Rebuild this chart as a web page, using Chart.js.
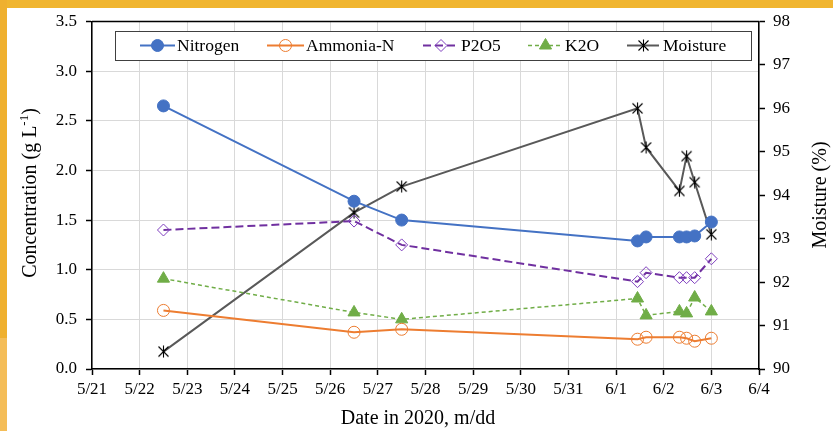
<!DOCTYPE html>
<html><head><meta charset="utf-8">
<script src="https://cdn.jsdelivr.net/npm/chart.js@4.4.1/dist/chart.umd.min.js"></script>
<style>html,body{margin:0;padding:0;background:#fff;overflow:hidden}#wrap{width:833px;height:431px;position:relative}</style>
</head><body><div id="wrap"><canvas id="c" width="833" height="431"></canvas></div>
<script>
// ---- data ----
const tickLabels = ['5/21','5/22','5/23','5/24','5/25','5/26','5/27','5/28','5/29','5/30','5/31','6/1','6/2','6/3','6/4'];
// sampling time, in days after 5/21 00:00
const sampleDays = [1.5, 5.5, 6.5, 11.45, 11.63, 12.33, 12.48, 12.65, 13.0];
const nitrogen  = [2.65, 1.69, 1.50, 1.29, 1.33, 1.33, 1.33, 1.34, 1.48];
const ammoniaN  = [0.59, 0.37, 0.40, 0.30, 0.32, 0.32, 0.31, 0.28, 0.31];
const p2o5      = [1.40, 1.49, 1.25, 0.88, 0.97, 0.92, 0.92, 0.92, 1.11];
const k2o       = [0.91, 0.57, 0.50, 0.71, 0.54, 0.58, 0.56, 0.72, 0.58];
const moisture  = [90.4, 93.6, 94.2, 96.0, 95.1, 94.1, 94.9, 94.3, 93.1];
const seriesNames = ['Nitrogen','Ammonia-N','P2O5','K2O','Moisture'];

const FONT = 'Liberation Serif, Times New Roman, serif';

function starMarker(){
  const c=document.createElement('canvas'); c.width=13; c.height=13;
  const g=c.getContext('2d'); g.strokeStyle='#000'; g.lineWidth=1.1;
  g.beginPath();
  g.moveTo(6.5,0.5); g.lineTo(6.5,12.5);
  g.moveTo(1.5,1.5); g.lineTo(11.5,11.5);
  g.moveTo(11.5,1.5); g.lineTo(1.5,11.5);
  g.stroke();
  return c;
}
const STAR = starMarker();
const pts = arr => sampleDays.map((d,i)=>({x:d, y:arr[i]}));

const datasets = [
  {label:seriesNames[0], data:pts(nitrogen), borderColor:'#4472C4', backgroundColor:'#4472C4', borderWidth:2,
   pointStyle:'circle', pointRadius:6, pointBorderWidth:1, pointBackgroundColor:'#4472C4', pointBorderColor:'#4472C4', yAxisID:'y'},
  {label:seriesNames[1], data:pts(ammoniaN), borderColor:'#ED7D31', backgroundColor:'rgba(0,0,0,0)', borderWidth:2,
   pointStyle:'circle', pointRadius:6, pointBorderWidth:1, pointBackgroundColor:'rgba(0,0,0,0)', pointBorderColor:'#ED7D31', yAxisID:'y'},
  {label:seriesNames[2], data:pts(p2o5), borderColor:'#7030A0', backgroundColor:'rgba(0,0,0,0)', borderWidth:2, borderDash:[8,4],
   pointStyle:'rectRot', pointRadius:6, pointBorderWidth:1, pointBackgroundColor:'rgba(0,0,0,0)', pointBorderColor:'#7F3FBF', yAxisID:'y'},
  {label:seriesNames[3], data:pts(k2o), borderColor:'#70AD47', backgroundColor:'#70AD47', borderWidth:1.5, borderDash:[4,3],
   pointStyle:'triangle', pointRadius:7, pointBorderWidth:1, pointBackgroundColor:'#70AD47', pointBorderColor:'#70AD47', yAxisID:'y'},
  {label:seriesNames[4], data:pts(moisture), borderColor:'#595959', backgroundColor:'rgba(0,0,0,0)', borderWidth:2,
   pointStyle:STAR, pointRadius:6, yAxisID:'y1'}
];

function drawMarker(ctx, ds, x, y){
  const r = ds.pointRadius;
  ctx.save();
  ctx.lineWidth = ds.pointBorderWidth || 1;
  ctx.strokeStyle = ds.pointBorderColor; ctx.fillStyle = ds.pointBackgroundColor;
  ctx.setLineDash([]);
  ctx.beginPath();
  if (ds.pointStyle === 'circle') { ctx.arc(x,y,r,0,Math.PI*2); }
  else if (ds.pointStyle === 'rectRot') { ctx.moveTo(x-r,y); ctx.lineTo(x,y-r); ctx.lineTo(x+r,y); ctx.lineTo(x,y+r); ctx.closePath(); }
  else if (ds.pointStyle === 'triangle') {
    for (let k=0;k<3;k++){ const a=-Math.PI/2+k*2*Math.PI/3; const px=x+r*Math.cos(a), py=y+r*Math.sin(a); k?ctx.lineTo(px,py):ctx.moveTo(px,py);} ctx.closePath(); }
  else { ctx.drawImage(ds.pointStyle, Math.round(x-6.5), Math.round(y-6.5)); ctx.restore(); return; }
  ctx.fill(); ctx.stroke();
  ctx.restore();
}

const framePlugin = {
  id:'frame',
  beforeDraw(chart){
    const ctx=chart.ctx; ctx.save();
    ctx.fillStyle='#fff'; ctx.fillRect(0,0,chart.width,chart.height);
    ctx.fillStyle='#F0B530'; ctx.fillRect(0,0,chart.width,8);
    ctx.fillStyle='#EFB02F'; ctx.fillRect(0,0,7,338);
    ctx.fillStyle='#F4BD58'; ctx.fillRect(0,338,7,chart.height-338);
    ctx.restore();
  },
  afterDraw(chart){
    const ctx=chart.ctx, a=chart.chartArea; ctx.save();
    // top plot border
    ctx.strokeStyle='#000'; ctx.lineWidth=1.5;
    ctx.beginPath(); ctx.moveTo(a.left,a.top); ctx.lineTo(a.right,a.top); ctx.stroke();
    // axis titles
    ctx.fillStyle='#000'; ctx.textAlign='center'; ctx.textBaseline='middle';
    ctx.font='20px '+FONT;
    ctx.fillText('Date in 2020, m/dd', 418, 419);
    // left title with superscript
    ctx.save(); ctx.translate(31, 193); ctx.rotate(-Math.PI/2);
    const p1='Concentration (g L', sup='-1', p2=')';
    ctx.font='20px '+FONT; const w1=ctx.measureText(p1).width, w3=ctx.measureText(p2).width;
    ctx.font='13px '+FONT; const w2=ctx.measureText(sup).width;
    let sx=-(w1+w2+w3)/2;
    ctx.textAlign='left';
    ctx.font='20px '+FONT; ctx.fillText(p1, sx, 0); sx+=w1;
    ctx.font='13px '+FONT; ctx.fillText(sup, sx, -6); sx+=w2;
    ctx.font='20px '+FONT; ctx.fillText(p2, sx, 0);
    ctx.restore();
    ctx.textAlign='center'; ctx.font='20px '+FONT;
    ctx.save(); ctx.translate(821, 195); ctx.rotate(-Math.PI/2);
    ctx.fillText('Moisture (%)', 0, 0); ctx.restore();
    // legend
    const L={x:115,y:31,w:636,h:29};
    ctx.fillStyle='#fff'; ctx.fillRect(L.x,L.y,L.w,L.h);
    ctx.strokeStyle='#404040'; ctx.lineWidth=1; ctx.strokeRect(L.x+0.5,L.y+0.5,L.w,L.h);
    const items=[{l0:140,l1:175,tx:177},{l0:267,l1:304,tx:306},{l0:423,l1:459,tx:461},{l0:528,l1:563,tx:565},{l0:627,l1:659,tx:663}];
    const cy=45.5;
    ctx.font='17.5px '+FONT; ctx.textAlign='left'; ctx.textBaseline='middle';
    items.forEach((it,i)=>{
      const ds=chart.data.datasets[i];
      ctx.save(); ctx.strokeStyle=ds.borderColor; ctx.lineWidth=ds.borderWidth; ctx.setLineDash(ds.borderDash||[]);
      ctx.beginPath(); ctx.moveTo(it.l0,cy); ctx.lineTo(it.l1,cy); ctx.stroke(); ctx.restore();
      drawMarker(ctx, ds, (it.l0+it.l1)/2, cy);
      ctx.fillStyle='#000'; ctx.fillText(ds.label, it.tx, cy+1);
    });
    ctx.restore();
  }
};

const tickFont = {family:FONT, size:17};
new Chart(document.getElementById('c'), {
  type:'line',
  data:{datasets},
  options:{
    responsive:false, animation:false, devicePixelRatio:1,
    layout:{padding:{top:21.5,left:0,right:0,bottom:0}},
    plugins:{legend:{display:false}, tooltip:{enabled:false}},
    elements:{line:{tension:0}},
    scales:{
      x:{type:'linear', min:0, max:14,
         afterFit(s){ s.height=62; },
         afterBuildTicks(s){ s.ticks = tickLabels.map((t,i)=>({value:i})); },
         ticks:{stepSize:1, autoSkip:false, maxRotation:0, padding:4, color:'#000', font:tickFont,
                callback:(v)=>tickLabels[v]},
         grid:{color:'#d9d9d9', lineWidth:1, tickColor:'#000', tickLength:6, tickWidth:1.5},
         border:{color:'#000', width:1.5}},
      y:{position:'left', min:0, max:3.5,
         afterFit(s){ s.width=92; },
         ticks:{stepSize:0.5, padding:9, color:'#000', font:tickFont, callback:(v)=>v.toFixed(1)},
         grid:{color:'#d9d9d9', lineWidth:1, tickColor:'#000', tickLength:6, tickWidth:1.5},
         border:{color:'#000', width:1.5}},
      y1:{position:'right', min:90, max:98,
         afterFit(s){ s.width=74; },
         ticks:{stepSize:1, padding:8, color:'#000', font:tickFont},
         grid:{drawOnChartArea:false, tickColor:'#000', tickLength:6, tickWidth:1.5},
         border:{color:'#000', width:1.5}}
    }
  },
  plugins:[framePlugin]
});
</script></body></html>
